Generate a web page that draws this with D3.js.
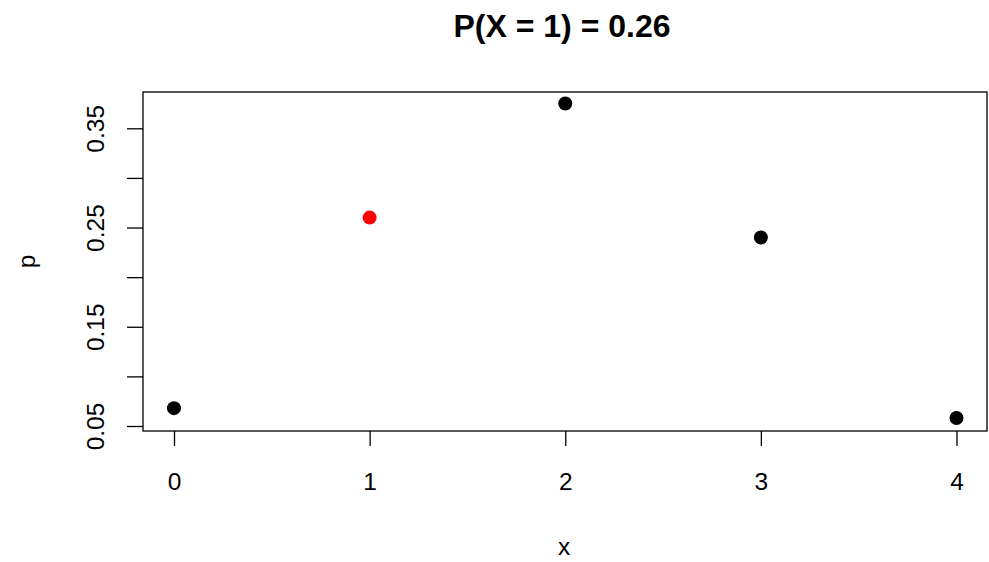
<!DOCTYPE html>
<html>
<head>
<meta charset="utf-8">
<script src="https://cdn.jsdelivr.net/npm/d3@7"></script>
<style>
  body { margin: 0; background: #fff; }
  text { font-family: "Liberation Sans", Arial, sans-serif; }
</style>
</head>
<body>
<div id="chart"></div>
<script>
// binomial probabilities
var xs = [0, 1, 2, 3, 4]
var ps = [0.068, 0.26, 0.375, 0.24, 0.058]
var highlight = 1
var yTicks = [0.05, 0.10, 0.15, 0.20, 0.25, 0.30, 0.35]
var yLabels = [0.05, 0.15, 0.25, 0.35]
var title = "P(X = 1) = 0.26"

var width = 989, height = 562
var box = { left: 143, right: 987, top: 92, bottom: 431 }

const svg = d3.select('#chart')
    .append('svg')
    .attr('width', width)
    .attr('height', height)

var xScale = d3.scaleLinear()
    .domain([0, 4])
    .range([174, 956.5])

var yScale = d3.scaleLinear()
    .domain([0.05, 0.35])
    .range([426, 128.3])

// plot frame
svg.append("rect")
    .attr("x", box.left)
    .attr("y", box.top)
    .attr("width", box.right - box.left)
    .attr("height", box.bottom - box.top)
    .attr("fill", "none")
    .attr("stroke", "#000")
    .attr("stroke-width", 1.3)

// x axis
var xAxis = d3.axisBottom(xScale)
    .tickValues(xs)
    .tickFormat(d3.format("d"))
    .tickSize(15)
    .tickPadding(27)
var gx = svg.append("g")
    .attr("transform", "translate(0," + box.bottom + ")")
    .call(xAxis)
gx.select(".domain").remove()
gx.selectAll("line").attr("stroke", "#000").attr("stroke-width", 1.3)
gx.selectAll("text")
    .attr("font-size", 24.5)
    .attr("fill", "#000")
    .attr("font-family", "Liberation Sans, Arial, sans-serif")

// y axis
var yAxis = d3.axisLeft(yScale)
    .tickValues(yTicks)
    .tickFormat(d => yLabels.some(v => Math.abs(v - d) < 1e-9) ? d3.format(".2f")(d) : "")
    .tickSize(16)
var gy = svg.append("g")
    .attr("transform", "translate(" + box.left + ",0)")
    .call(yAxis)
gy.select(".domain").remove()
gy.selectAll("line").attr("stroke", "#000").attr("stroke-width", 1.3)
gy.selectAll("text")
    .attr("font-size", 24.5)
    .attr("fill", "#000")
    .attr("font-family", "Liberation Sans, Arial, sans-serif")
    .attr("x", 0)
    .attr("dy", 0)
    .attr("text-anchor", "middle")
    .attr("transform", "translate(-39,0) rotate(-90)")

// points
svg.selectAll("circle.pt")
    .data(xs)
    .enter()
    .append("circle")
    .attr("class", "pt")
    .attr("cx", d => xScale(d))
    .attr("cy", (d, i) => yScale(ps[i]))
    .attr("r", 7)
    .attr("fill", d => d === highlight ? "#ff0000" : "#000")

// title and axis labels
svg.append("text")
    .attr("x", 562)
    .attr("y", 37)
    .attr("text-anchor", "middle")
    .attr("font-weight", "bold")
    .attr("font-size", 32)
    .text(title)

svg.append("text")
    .attr("x", 564)
    .attr("y", 555)
    .attr("text-anchor", "middle")
    .attr("font-size", 24.5)
    .text("x")

svg.append("text")
    .attr("transform", "translate(35," + ((box.top + box.bottom) / 2) + ") rotate(-90)")
    .attr("text-anchor", "middle")
    .attr("font-size", 24.5)
    .text("p")
</script>
</body>
</html>
